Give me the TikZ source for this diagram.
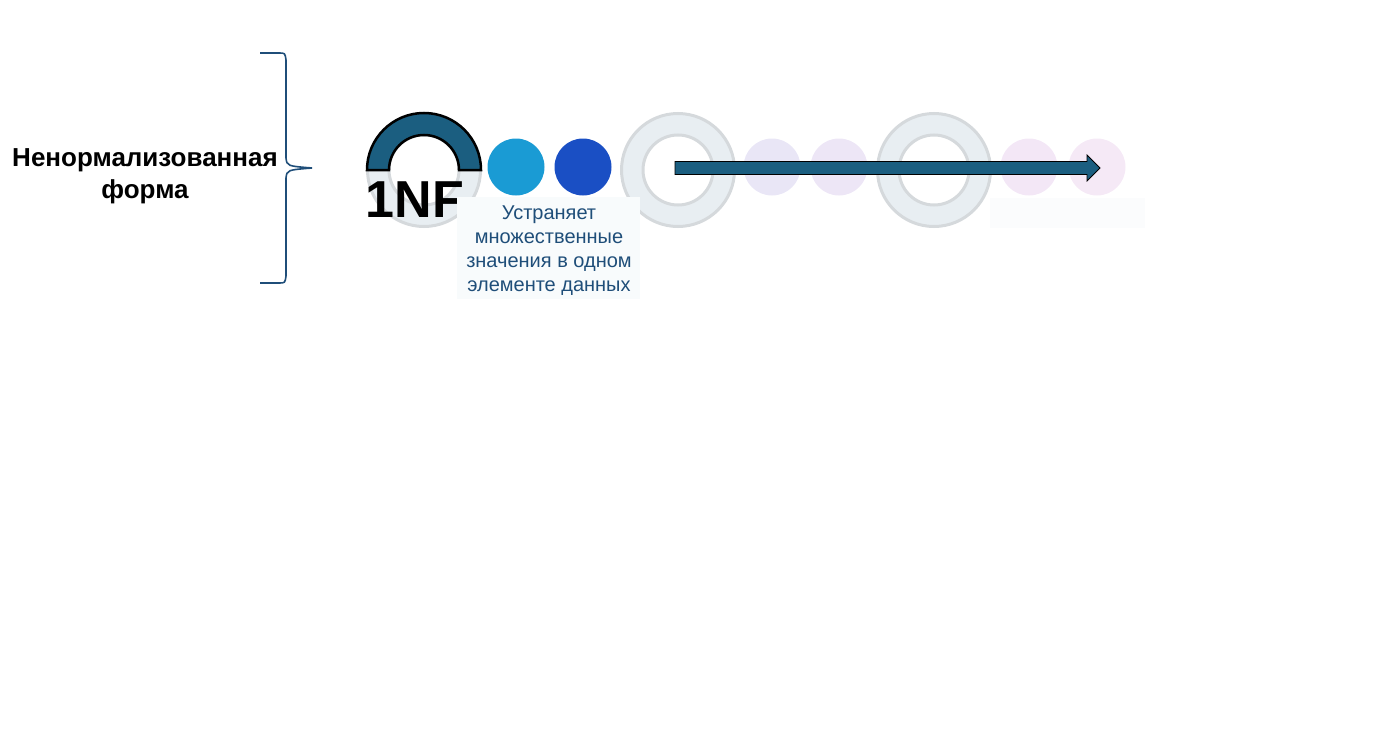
\documentclass[tikz,border=0pt]{standalone}
\usepackage{fontspec}
\setmainfont{Liberation Sans}
\usetikzlibrary{calc}
\definecolor{tealdark}{HTML}{1B5E80}
\definecolor{ringfill}{HTML}{E8EEF2}
\definecolor{ringedge}{HTML}{D5D9DC}
\definecolor{bluelight}{HTML}{1A9BD4}
\definecolor{bluedeep}{HTML}{1A4FC4}
\definecolor{lilac1}{HTML}{E9E6F6}
\definecolor{lilac2}{HTML}{EDE6F6}
\definecolor{pink1}{HTML}{F3E7F6}
\definecolor{pink2}{HTML}{F5E9F6}
\definecolor{textblue}{HTML}{1F4E79}
\definecolor{boxbg}{HTML}{F8FBFC}
\definecolor{boxfaint}{HTML}{FBFCFD}
\begin{document}
\begin{tikzpicture}[x=1pt,y=-1pt,
  dot/.style={circle,inner sep=0pt,minimum size=57pt},
  ring/.style={circle,inner sep=0pt,minimum size=113pt,fill=ringfill,draw=ringedge,line width=3pt},
  hole/.style={circle,inner sep=0pt,minimum size=70pt,fill=white,draw=ringedge,line width=3pt}]
\useasboundingbox (0,0) rectangle (1398,752);

% label and brace
\node[font=\bfseries\fontsize{26}{32}\selectfont,align=center] (lbl) at (145,176) {Ненормализованная\\форма};
\draw[textblue,line width=1.6pt] (260,53) -- (279,53) .. controls (285,53) .. (286,60) -- (286,158)
  .. controls (287,166) .. (312,168) .. controls (287,170) .. (286,178) -- (286,276)
  .. controls (285,283) .. (279,283) -- (260,283);

% rings and dots
\node[ring] (nf1) at (424,170) {};
\node[hole] (nf1h) at (424,170) {};
\fill[tealdark,draw=black,line width=2.5pt] ($(nf1)+(-57,0)$) arc[start angle=180,end angle=360,radius=57]
  -- ($(nf1)+(35,0)$) arc[start angle=0,end angle=-180,radius=35] -- cycle;
\node[dot,fill=bluelight] (d1) at (516,167) {};
\node[dot,fill=bluedeep] (d2) at (583,167) {};
\node[ring] (nf2) at (678,170) {};
\node[hole] (nf2h) at (678,170) {};
\node[dot,fill=lilac1] (d3) at (772,167) {};
\node[dot,fill=lilac2] (d4) at (839,167) {};
\node[ring] (nf3) at (934,170) {};
\node[hole] (nf3h) at (934,170) {};
\node[dot,fill=pink1] (d5) at (1029,167) {};
\node[dot,fill=pink2] (d6) at (1097,167) {};

% texts
\node[font=\bfseries\fontsize{52}{52}\selectfont,inner sep=0pt] (nf) at (415,200) {1NF};
\fill[boxbg] (457,197) rectangle (640,299);
\node[align=center,text=textblue,font=\fontsize{20}{24}\selectfont] (desc) at (549,251) {Устраняет\\множественные\\значения в одном\\элементе данных};
\fill[boxfaint] (990,198) rectangle (1145,228);

% arrow
\coordinate (arrS) at (675,168);
\coordinate (arrE) at (1100,168);
\filldraw[fill=tealdark,draw=black,line width=0.8pt] ($(arrS)+(0,-6.5)$) -- ($(arrE)+(-13,-6.5)$) -- ($(arrE)+(-13,-13)$)
  -- (arrE) -- ($(arrE)+(-13,13)$) -- ($(arrE)+(-13,6.5)$) -- ($(arrS)+(0,6.5)$) -- cycle;
\end{tikzpicture}
\end{document}
